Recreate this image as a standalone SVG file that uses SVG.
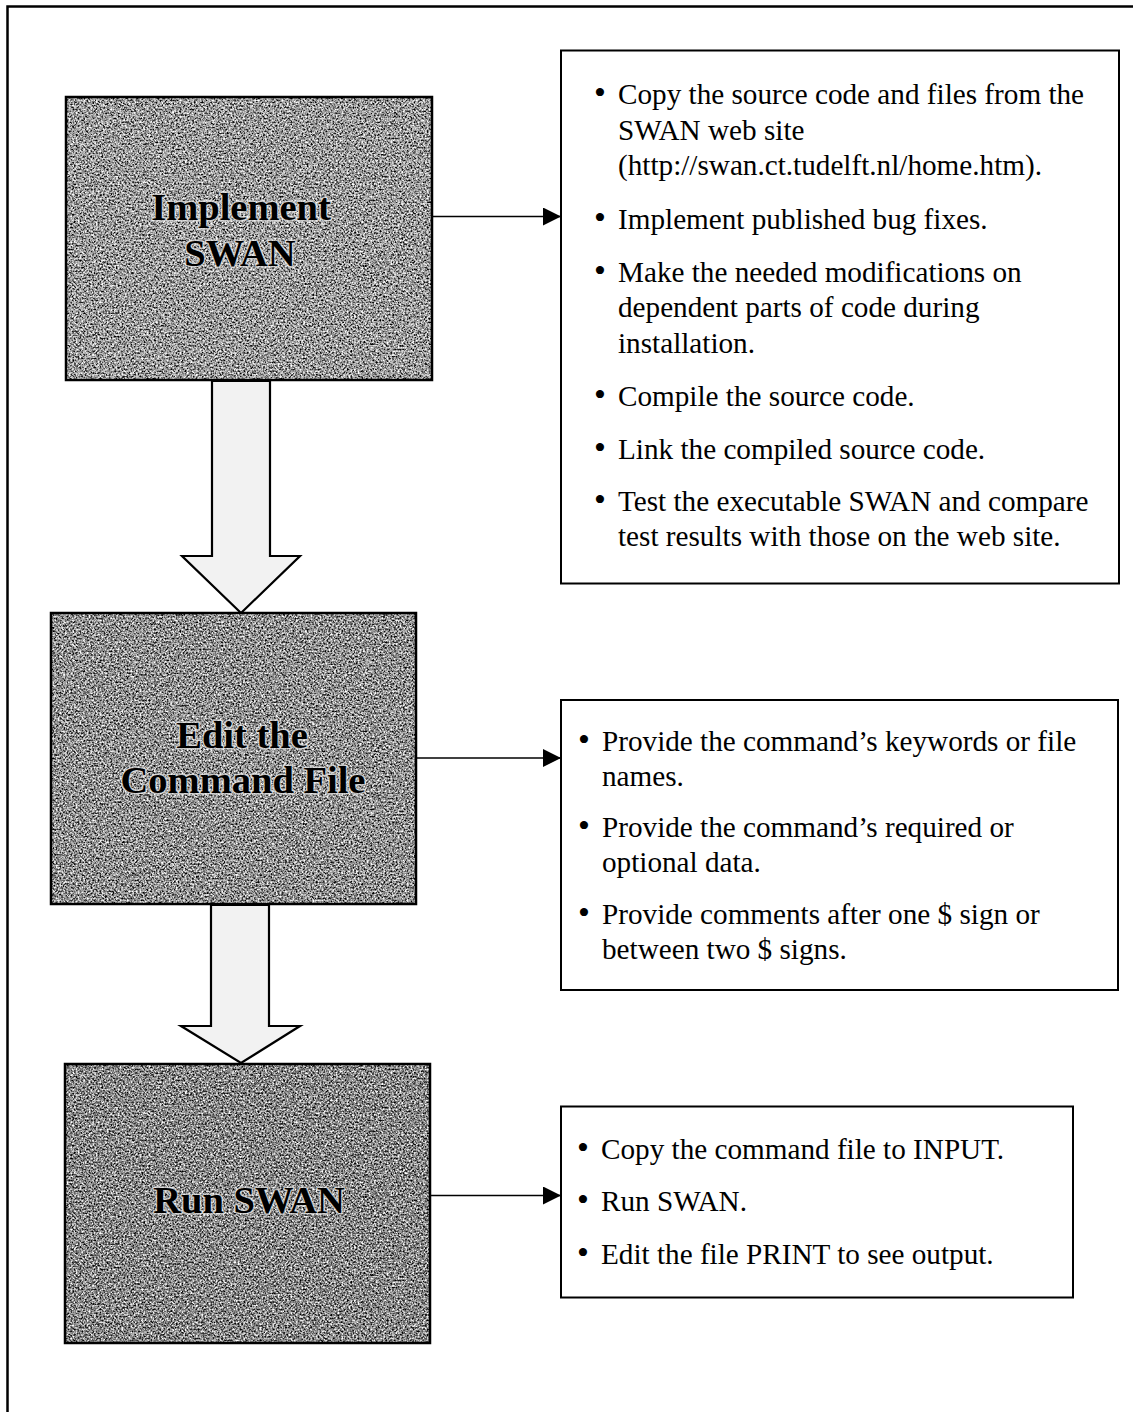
<svg xmlns="http://www.w3.org/2000/svg" width="1133" height="1412" viewBox="0 0 1133 1412">
<style>
  .frame { stroke: #000; stroke-width: 2.5; fill: none; }
  .step { stroke: #000; stroke-width: 2.5; fill: none; }
  .title { font-family: "Liberation Serif", "Times New Roman", serif; font-weight: bold; font-size: 38.5px; fill: #000; text-anchor: middle; stroke: #e8e8e8; stroke-width: 3; stroke-opacity: 0.7; paint-order: stroke; stroke-linejoin: round; }
  .note { fill: #fff; stroke: #000; stroke-width: 2; }
  .txt { font-family: "Liberation Serif", "Times New Roman", serif; font-size: 29.2px; fill: #000; }
  .bul { font-size: 34px; }
  .flow { fill: #f2f2f2; stroke: #000; stroke-width: 2.2; stroke-linejoin: miter; }
  .conn { stroke: #000; stroke-width: 1.6; fill: none; }
</style>
<defs>
  <marker id="ah" viewBox="0 0 10 10" refX="10" refY="5" markerUnits="userSpaceOnUse" markerWidth="19" markerHeight="18" orient="auto">
    <path d="M0,0 L10,5 L0,10 Z" fill="#000"/>
  </marker>
  <filter id="grain" x="0" y="0" width="1" height="1" color-interpolation-filters="sRGB">
    <feTurbulence type="fractalNoise" baseFrequency="0.55" numOctaves="3" seed="7" result="t"/>
    <feColorMatrix in="t" type="matrix" values="1.8 0 0 0 -0.4  1.8 0 0 0 -0.4  1.8 0 0 0 -0.4  0 0 0 0 1" result="g"/>
    <feBlend in="SourceGraphic" in2="g" mode="overlay" result="b"/>
    <feComposite in="b" in2="SourceGraphic" operator="in"/>
  </filter>
</defs>
<rect width="1133" height="1412" fill="#fff"/>
<path class="frame" d="M7.5,1412 L7.5,6.5 L1133,6.5"/>

<g id="connectors">
  <polygon class="flow" points="212,381 270,381 270,556 300,556 241,613 182,556 212,556"/>
  <polygon class="flow" points="211,905 269,905 269,1026 300,1026 241,1063 181,1026 211,1026"/>
  <line class="conn" x1="432" y1="216.5" x2="561" y2="216.5" marker-end="url(#ah)"/>
  <line class="conn" x1="416" y1="758" x2="561" y2="758" marker-end="url(#ah)"/>
  <line class="conn" x1="430" y1="1195.5" x2="561" y2="1195.5" marker-end="url(#ah)"/>
</g>

<g id="implement-swan">
  <rect x="66" y="97" width="366" height="283" fill="#9e9e9e" filter="url(#grain)"/>
  <rect class="step" x="66" y="97" width="366" height="283"/>
  <text class="title" x="241" y="220">Implement</text>
  <text class="title" x="240" y="266">SWAN</text>
</g>

<g id="edit-command-file">
  <rect x="51" y="613" width="365" height="291" fill="#929292" filter="url(#grain)"/>
  <rect class="step" x="51" y="613" width="365" height="291"/>
  <text class="title" x="242" y="748">Edit the</text>
  <text class="title" x="243" y="793">Command File</text>
</g>

<g id="run-swan">
  <rect x="65" y="1064" width="365" height="279" fill="#878787" filter="url(#grain)"/>
  <rect class="step" x="65" y="1064" width="365" height="279"/>
  <text class="title" x="249" y="1213">Run SWAN</text>
</g>

<g id="implement-notes">
  <rect class="note" x="561" y="50.5" width="558" height="533"/>
  <g class="txt">
    <text class="bul" x="594" y="104">•</text>
    <text x="618" y="104">Copy the source code and files from the</text>
    <text x="618" y="139.5">SWAN web site</text>
    <text x="618" y="175">(http://swan.ct.tudelft.nl/home.htm).</text>
    <text class="bul" x="594" y="229">•</text>
    <text x="618" y="229">Implement published bug fixes.</text>
    <text class="bul" x="594" y="281.5">•</text>
    <text x="618" y="281.5">Make the needed modifications on</text>
    <text x="618" y="317">dependent parts of code during</text>
    <text x="618" y="353">installation.</text>
    <text class="bul" x="594" y="405.5">•</text>
    <text x="618" y="405.5">Compile the source code.</text>
    <text class="bul" x="594" y="458.5">•</text>
    <text x="618" y="458.5">Link the compiled source code.</text>
    <text class="bul" x="594" y="511">•</text>
    <text x="618" y="511">Test the executable SWAN and compare</text>
    <text x="618" y="545.5">test results with those on the web site.</text>
  </g>
</g>

<g id="edit-notes">
  <rect class="note" x="561" y="700" width="557" height="290"/>
  <g class="txt">
    <text class="bul" x="578" y="751">•</text>
    <text x="602" y="751">Provide the command’s keywords or file</text>
    <text x="602" y="786">names.</text>
    <text class="bul" x="578" y="837">•</text>
    <text x="602" y="837">Provide the command’s required or</text>
    <text x="602" y="872">optional data.</text>
    <text class="bul" x="578" y="924">•</text>
    <text x="602" y="924">Provide comments after one $ sign or</text>
    <text x="602" y="959">between two $ signs.</text>
  </g>
</g>

<g id="run-notes">
  <rect class="note" x="561" y="1106.5" width="512" height="191"/>
  <g class="txt">
    <text class="bul" x="577" y="1159">•</text>
    <text x="601" y="1159">Copy the command file to INPUT.</text>
    <text class="bul" x="577" y="1211">•</text>
    <text x="601" y="1211">Run SWAN.</text>
    <text class="bul" x="577" y="1264">•</text>
    <text x="601" y="1264">Edit the file PRINT to see output.</text>
  </g>
</g>
</svg>
